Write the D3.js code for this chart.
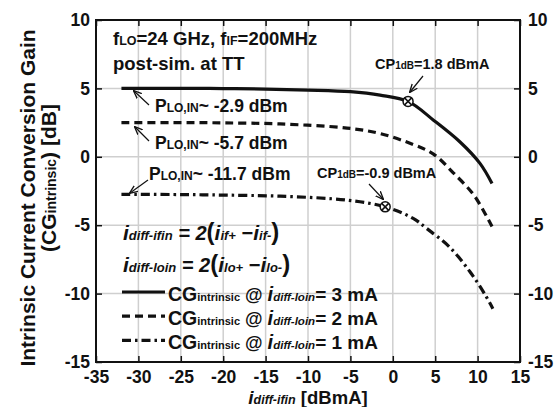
<!DOCTYPE html>
<html>
<head>
<meta charset="utf-8">
<script src="https://cdn.jsdelivr.net/npm/d3@7"></script>
<style>
  body { margin: 0; background: #fff; }
  svg text { font-family: "Liberation Sans", Arial, sans-serif; font-weight: bold; fill: #111; }
</style>
</head>
<body>
<div id="chart"></div>
<script>
// data
var xTicks = [-35, -30, -25, -20, -15, -10, -5, 0, 5, 10, 15];
var yTicks = [-15, -10, -5, 0, 5, 10];

var cg3x = [-32, -25, -20, -15, -10, -5, -1.5, 1.8, 4.8, 7.9, 10.3, 11.7];
var cg3y = [5, 5, 4.99, 4.95, 4.88, 4.76, 4.51, 4.05, 2.68, 1.1, -0.5, -1.95];

var cg2x = [-32, -25, -20, -13.3, -5.4, -1.5, 2.4, 4.8, 7.1, 9.5, 11.1, 11.7];
var cg2y = [2.5, 2.5, 2.48, 2.4, 2.1, 1.7, 0.9, 0.2, -1.15, -2.75, -4.4, -5.1];

var cg1x = [-32, -25, -20, -13.3, -5.4, -0.9, 2.4, 4.0, 6.7, 9.1, 10.9, 11.8];
var cg1y = [-2.75, -2.76, -2.8, -2.88, -3.17, -3.66, -4.5, -5.24, -6.6, -8.4, -10.1, -11.1];

var cp1dB = [[1.8, 4.05], [-0.9, -3.66]];
var legLabels = ["3", "2", "1"];

var margin = {top: 20, right: 40, bottom: 45, left: 96},
    width = 560 - margin.left - margin.right,
    height = 407 - margin.top - margin.bottom;

var svg = d3.select("#chart")
  .append("svg")
    .attr("width", 560)
    .attr("height", 407)
  .append("g")
    .attr("transform", "translate(" + margin.left + "," + margin.top + ")");

var x = d3.scaleLinear().domain([-35, 15]).range([0, width]);
var y = d3.scaleLinear().domain([-15, 10]).range([height, 0]);

// grid
svg.append("g").selectAll("line.gx")
  .data(xTicks.slice(1, -1)).enter().append("line")
    .attr("x1", d => x(d)).attr("x2", d => x(d))
    .attr("y1", 0).attr("y2", height)
    .style("stroke", "#cfcfcf").style("stroke-width", 1.5);
svg.append("g").selectAll("line.gy")
  .data(yTicks.slice(1, -1)).enter().append("line")
    .attr("y1", d => y(d)).attr("y2", d => y(d))
    .attr("x1", 0).attr("x2", width)
    .style("stroke", "#cfcfcf").style("stroke-width", 1.5);

// axes (ticks inside), hyphen minus like the original
var fmt = d => String(d);
function styleAxis(g) {
  g.select(".domain").remove();
  g.selectAll(".tick line").style("stroke", "#111").style("stroke-width", 1.5);
  g.selectAll(".tick text").style("font-size", "17.5px").style("font-family", "Liberation Sans, Arial, sans-serif").style("font-weight", "bold").style("fill", "#111");
}
svg.append("g").attr("transform", "translate(0," + height + ")")
  .call(d3.axisBottom(x).tickValues(xTicks).tickSizeInner(-6).tickSizeOuter(0).tickPadding(9).tickFormat(fmt))
  .call(styleAxis);
svg.append("g")
  .call(d3.axisTop(x).tickValues(xTicks).tickSizeInner(-6).tickSizeOuter(0).tickFormat(""))
  .call(styleAxis);
svg.append("g")
  .call(d3.axisLeft(y).tickValues(yTicks).tickSizeInner(-6).tickSizeOuter(0).tickPadding(6).tickFormat(fmt))
  .call(styleAxis);
svg.append("g").attr("transform", "translate(" + width + ",0)")
  .call(d3.axisRight(y).tickValues(yTicks).tickSizeInner(-6).tickSizeOuter(0).tickPadding(8).tickFormat(fmt))
  .call(styleAxis);

svg.append("rect")
  .attr("width", width).attr("height", height)
  .style("fill", "none").style("stroke", "#111").style("stroke-width", 2);

// curves
var line = d3.line().x(d => x(d[0])).y(d => y(d[1])).curve(d3.curveCatmullRom.alpha(0.5));
var series = [
  {xs: cg3x, ys: cg3y, dash: null},
  {xs: cg2x, ys: cg2y, dash: "8,5"},
  {xs: cg1x, ys: cg1y, dash: "9,4,2.5,4"}
];
series.forEach(function(s) {
  svg.append("path")
    .datum(s.xs.map((v, i) => [v, s.ys[i]]))
    .attr("d", line)
    .style("fill", "none").style("stroke", "#111").style("stroke-width", 3.2)
    .style("stroke-dasharray", s.dash);
});

// CP1dB markers
cp1dB.forEach(function(p) {
  var cx = x(p[0]), cy = y(p[1]), r = 5;
  svg.append("circle").attr("cx", cx).attr("cy", cy).attr("r", r)
    .style("fill", "#fff").style("stroke", "#111").style("stroke-width", 1.5);
  var k = r * 0.7;
  svg.append("path")
    .attr("d", "M" + (cx - k) + "," + (cy - k) + "L" + (cx + k) + "," + (cy + k) + "M" + (cx + k) + "," + (cy - k) + "L" + (cx - k) + "," + (cy + k))
    .style("stroke", "#111").style("stroke-width", 1.5);
});

// arrows
svg.append("defs").append("marker")
  .attr("id", "ah").attr("viewBox", "0 0 10 10").attr("refX", 9).attr("refY", 5)
  .attr("markerWidth", 7).attr("markerHeight", 7).attr("orient", "auto")
  .append("path").attr("d", "M0,1L10,5L0,9").style("fill", "none").style("stroke", "#111").style("stroke-width", 1.6);

function arrow(x1, y1, x2, y2) {
  svg.append("line")
    .attr("x1", x1 - margin.left).attr("y1", y1 - margin.top)
    .attr("x2", x2 - margin.left).attr("y2", y2 - margin.top)
    .style("stroke", "#111").style("stroke-width", 1.2)
    .attr("marker-end", "url(#ah)");
}

// rich text helper: runs of [text, size, italic]
function rich(px, py, runs, anchor) {
  var t = svg.append("text")
    .attr("x", px - margin.left).attr("y", py - margin.top)
    .attr("text-anchor", anchor || "start");
  runs.forEach(function(r) {
    t.append("tspan").text(r[0])
      .style("font-size", r[1] + "px")
      .style("font-style", r[2] ? "italic" : "normal");
  });
  return t;
}

rich(113, 45, [["f", 18.5], ["LO", 12.5], ["=24 GHz, f", 18.5], ["IF", 12.5], ["=200MHz", 18.5]]);
rich(113, 70, [["post-sim. at TT", 18.5]]);

arrow(149, 105, 134, 91);
rich(155, 112, [["P", 17.5], ["LO,IN", 12], ["~ -2.9 dBm", 17.5]]);
arrow(149, 141, 135, 127);
rich(155, 149, [["P", 17.5], ["LO,IN", 12], ["~ -5.7 dBm", 17.5]]);
arrow(148, 180, 130, 193);
rich(149, 180, [["P", 17.5], ["LO,IN", 12], ["~ -11.7 dBm", 17.5]]);

rich(375, 69, [["CP", 14.5], ["1dB", 10], ["=1.8 dBmA", 14.5]]);
arrow(423, 76, 410, 92);
rich(317, 178, [["CP", 14.5], ["1dB", 10], ["=-0.9 dBmA", 14.5]]);
arrow(369, 184, 383, 199);

// formulas
rich(123, 240, [["i", 21, true], ["diff-ifin", 13, true], [" = 2", 20, true], ["(", 24], ["i", 21, true], ["if+", 13, true], [" \u2212", 20], ["i", 21, true], ["if-", 13, true], [")", 24]]);
rich(123, 272, [["i", 21, true], ["diff-loin", 13, true], [" = 2", 20, true], ["(", 24], ["i", 21, true], ["lo+", 13, true], [" \u2212", 20], ["i", 21, true], ["lo-", 13, true], [")", 24]]);

// legend
series.forEach(function(s, i) {
  var ly = 292 + i * 24.2;
  svg.append("line")
    .attr("x1", 122 - margin.left).attr("x2", 165 - margin.left)
    .attr("y1", ly - margin.top).attr("y2", ly - margin.top)
    .style("stroke", "#111").style("stroke-width", 3.2)
    .style("stroke-dasharray", s.dash);
  rich(168, ly + 9, [["CG", 19.5], ["intrinsic", 11], [" @ ", 18], ["i", 20, true], ["diff-loin", 11.5, true], ["= " + legLabels[i] + " mA", 19]]);
});

// axis titles
rich(308, 404, [["i", 19, true], ["diff-ifin", 12.5, true], [" [dBmA]", 18.5]], "middle");

svg.append("text")
  .attr("transform", "translate(" + (35 - margin.left) + "," + (198 - margin.top) + ") rotate(-90)")
  .attr("text-anchor", "middle")
  .style("font-size", "21px")
  .text("Intrinsic Current Conversion Gain");
var yl2 = svg.append("text")
  .attr("transform", "translate(" + (56 - margin.left) + "," + (178 - margin.top) + ") rotate(-90)")
  .attr("text-anchor", "middle");
yl2.append("tspan").text("(CG").style("font-size", "21px");
yl2.append("tspan").text("intrinsic").style("font-size", "14px");
yl2.append("tspan").text(") [dB]").style("font-size", "21px");
</script>
</body>
</html>
